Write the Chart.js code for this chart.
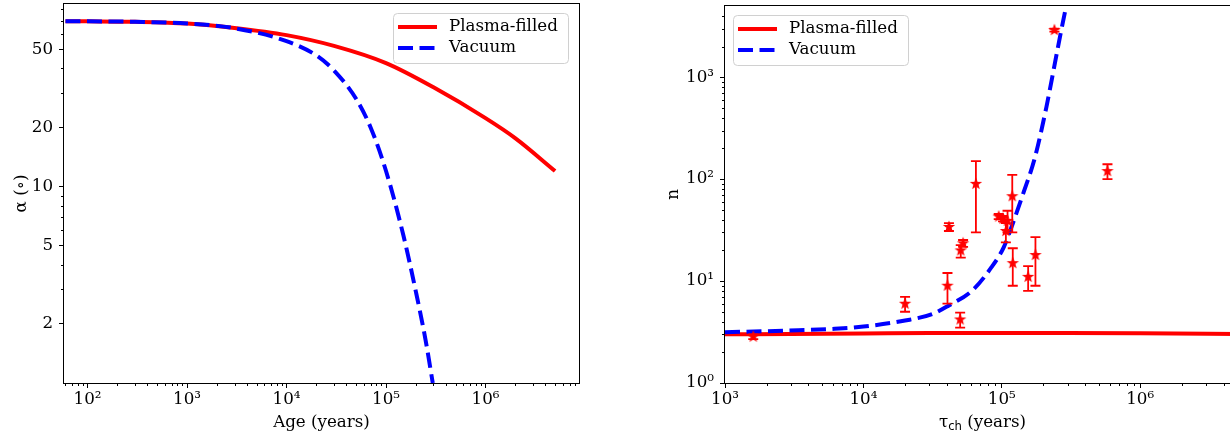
<!DOCTYPE html>
<html>
<head>
<meta charset="utf-8">
<script src="https://cdn.jsdelivr.net/npm/chart.js@4.4.1/dist/chart.umd.min.js"></script>
<style>
html, body { margin:0; padding:0; background:#fff; overflow:hidden; width:1230px; height:438px; }
#leftBox { position:absolute; left:0; top:0; }
#rightBox { position:absolute; left:620px; top:0; }
</style>
</head>
<body>
<div id="leftBox"><canvas id="alphaChart" width="610" height="438"></canvas></div>
<div id="rightBox"><canvas id="nChart" width="640" height="438"></canvas></div>
<script>
// ---- left panel: inclination angle vs age ----
const agePlasma = [60, 100, 300, 1000, 3000, 10000, 30000, 100000, 300000, 1000000, 2000000, 5000000];
const alphaPlasma = [69.5, 69.4, 69.0, 67.6, 64.2, 59.0, 52.0, 42.5, 32.0, 22.3, 17.6, 12.0];
const ageVacuum = [60, 100, 300, 1000, 3000, 10000, 20000, 30000, 50000, 70000, 100000, 150000, 200000, 250000, 295000];
const alphaVacuum = [69.5, 69.4, 69.0, 67.6, 64.0, 55.0, 46.5, 39.0, 28.0, 20.0, 12.0, 5.6, 2.9, 1.65, 1.0];
const ageTicks = [1e2, 1e3, 1e4, 1e5, 1e6];
const alphaTicks = [2, 5, 10, 20, 50];

// ---- right panel: braking index vs characteristic age ----
const tauPlasma = [1000, 3000, 10000, 30000, 100000, 300000, 1000000, 5000000];
const nPlasma = [3.0, 3.03, 3.06, 3.09, 3.1, 3.1, 3.08, 3.03];
const tauVacuum = [1000, 2840, 6200, 10000, 20000, 31700, 41200, 61000, 84000, 103000, 117000, 142000, 173000, 210000, 240000, 264000, 286000, 305000];
const nVacuum = [3.15, 3.27, 3.4, 3.58, 4.1, 4.76, 5.74, 8.05, 13.6, 21.3, 33.4, 70.8, 161, 510, 1300, 2550, 4370, 6500];
const tauObs = [1600, 20000, 40500, 41500, 50000, 50500, 52500, 65000, 95000, 102000, 107000, 110000, 119000, 120000, 155000, 175000, 240000, 580000];
const nObs = [2.85, 6, 9, 34, 4.2, 20, 23.5, 90, 43, 41, 31, 39, 68, 15, 11, 18, 2900, 120];
const nErrLow = [0.15, 1, 3, 3, 0.7, 3, 1.8, 60, 2.5, 2.5, 7, 9, 38, 6, 3, 9, 100, 20];
const nErrHigh = [0.15, 1, 3, 3, 0.7, 2.5, 1.8, 60, 2.5, 2.5, 6, 10, 42, 6, 3, 9, 100, 20];
const tauTicks = [1e3, 1e4, 1e5, 1e6];
const nTicks = [1, 10, 100, 1000];

const FONT = "16.7px 'DejaVu Serif'";
Chart.defaults.font.family = "'DejaVu Serif'";
Chart.defaults.font.size = 16.7;
Chart.defaults.color = "#000";

const SUP = {"0":"⁰","1":"¹","2":"²","3":"³","4":"⁴","5":"⁵","6":"⁶","7":"⁷"};
function powLabel(v){
    let e = Math.round(Math.log10(v));
    return "10" + String(e).split("").map(c => SUP[c]).join("");
}

function toXY(xs, ys){
    return xs.map((x, i) => ({x: x, y: ys[i]}));
}

function minorValues(min, max, majors){
    let out = [];
    for(let e = Math.floor(Math.log10(min)); e <= Math.ceil(Math.log10(max)); e++){
        for(let d = 1; d < 10; d++){
            let v = d * Math.pow(10, e);
            if(v > min && v < max && !majors.some(m => Math.abs(m - v) / v < 1e-9)){
                out.push(v);
            }
        }
    }
    return out;
}

// star marker like matplotlib '*'
function makeStar(r){
    let c = document.createElement("canvas");
    let s = Math.ceil(r * 2 + 4);
    c.width = s; c.height = s;
    let g = c.getContext("2d");
    g.fillStyle = "#ff0000";
    g.strokeStyle = "#ff0000";
    g.lineWidth = 1.2;
    g.lineJoin = "miter";
    g.beginPath();
    for(let i = 0; i < 10; i++){
        let rad = (i % 2 === 0) ? r : r * 0.42;
        let a = -Math.PI / 2 + i * Math.PI / 5;
        let px = s / 2 + rad * Math.cos(a);
        let py = s / 2 + rad * Math.sin(a);
        if(i === 0) g.moveTo(px, py); else g.lineTo(px, py);
    }
    g.closePath();
    g.fill();
    g.stroke();
    return c;
}

function logAxis(min, max, majors, labelFn, boxSize, isX){
    return {
        type: "logarithmic",
        min: min,
        max: max,
        afterBuildTicks: s => { s.ticks = majors.map(v => ({value: v})); },
        afterFit: s => {
            if(isX) s.height = boxSize; else s.width = boxSize;
            s.paddingTop = 0; s.paddingBottom = 0;
            s.paddingLeft = 0; s.paddingRight = 0;
        },
        ticks: {
            callback: v => labelFn(v),
            autoSkip: false,
            maxRotation: 0,
            padding: isX ? 2 : 6,
            color: "#000"
        },
        grid: {
            display: true,
            drawOnChartArea: false,
            drawTicks: true,
            tickLength: 5,
            tickColor: "#000",
            tickWidth: 1
        },
        border: { display: false }
    };
}

// frame + minor ticks + axis titles + legend
const decor = {
    id: "decor",
    afterDraw(chart, args, o){
        const ctx = chart.ctx;
        const a = chart.chartArea;
        const xs = chart.scales.x, ys = chart.scales.y;
        ctx.save();
        ctx.strokeStyle = "#000";
        ctx.lineWidth = 1;
        ctx.strokeRect(a.left - 0.5, a.top - 0.5, a.right - a.left + 1, a.bottom - a.top + 1);

        ctx.beginPath();
        minorValues(xs.min, xs.max, o.xMajors).forEach(v => {
            let p = Math.round(xs.getPixelForValue(v)) + 0.5;
            ctx.moveTo(p, a.bottom); ctx.lineTo(p, a.bottom + 3);
        });
        minorValues(ys.min, ys.max, o.yMajors).forEach(v => {
            let p = Math.round(ys.getPixelForValue(v)) + 0.5;
            ctx.moveTo(a.left, p); ctx.lineTo(a.left - 3, p);
        });
        ctx.stroke();

        // axis titles
        ctx.fillStyle = "#000";
        ctx.textBaseline = "middle";
        ctx.font = FONT;
        let cx = (a.left + a.right) / 2;
        if(o.xSub){
            ctx.textAlign = "left";
            let w1 = ctx.measureText(o.xTitle).width;
            ctx.font = "11.7px 'DejaVu Sans'";
            let w2 = ctx.measureText(o.xSub).width;
            ctx.font = FONT;
            let w3 = ctx.measureText(o.xRest).width;
            let x0 = cx - (w1 + w2 + w3) / 2;
            ctx.fillText(o.xTitle, x0, o.xTitleY);
            ctx.font = "11.7px 'DejaVu Sans'";
            ctx.fillText(o.xSub, x0 + w1, o.xTitleY + 4);
            ctx.font = FONT;
            ctx.fillText(o.xRest, x0 + w1 + w2, o.xTitleY);
        }
        else{
            ctx.textAlign = "center";
            ctx.fillText(o.xTitle, cx, o.xTitleY);
        }
        ctx.save();
        ctx.translate(o.yTitleX, (a.top + a.bottom) / 2);
        ctx.rotate(-Math.PI / 2);
        ctx.textAlign = "center";
        ctx.fillText(o.yTitle, 0, 0);
        ctx.restore();

        // legend
        let bw = 175, bh = 50;
        let bx = o.legendRight ? a.right - 11 - bw : a.left + 8;
        let by = a.top + 9;
        ctx.beginPath();
        ctx.roundRect(bx + 0.5, by + 0.5, bw, bh, 4);
        ctx.fillStyle = "rgba(255,255,255,0.8)";
        ctx.fill();
        ctx.strokeStyle = "#d0d0d0";
        ctx.stroke();
        let rows = chart.data.datasets.filter(d => d.showLine);
        rows.forEach((d, i) => {
            let yy = by + 14 + i * 21;
            ctx.beginPath();
            ctx.strokeStyle = d.borderColor;
            ctx.lineWidth = 4;
            ctx.setLineDash(d.borderDash || []);
            ctx.moveTo(bx + 5, yy);
            ctx.lineTo(bx + 44, yy);
            ctx.stroke();
            ctx.setLineDash([]);
            ctx.fillStyle = "#000";
            ctx.textAlign = "left";
            ctx.font = FONT;
            ctx.fillText(d.label, bx + 56, yy);
        });
        ctx.restore();
    }
};

// error bars drawn just before the star markers
const errorBars = {
    id: "errorBars",
    beforeDatasetDraw(chart, args){
        let ds = chart.data.datasets[args.index];
        if(!ds.errLow) return;
        const ctx = chart.ctx;
        const xs = chart.scales.x, ys = chart.scales.y;
        ctx.save();
        ctx.strokeStyle = "#ff0000";
        ctx.lineWidth = 1.8;
        ctx.beginPath();
        ds.data.forEach((p, i) => {
            let px = xs.getPixelForValue(p.x);
            let lo = ys.getPixelForValue(p.y - ds.errLow[i]);
            let hi = ys.getPixelForValue(p.y + ds.errHigh[i]);
            ctx.moveTo(px, lo); ctx.lineTo(px, hi);
            ctx.moveTo(px - 5, lo); ctx.lineTo(px + 5, lo);
            ctx.moveTo(px - 5, hi); ctx.lineTo(px + 5, hi);
        });
        ctx.stroke();
        ctx.restore();
    }
};

new Chart(document.getElementById("alphaChart"), {
    type: "scatter",
    data: {
        datasets: [
            {
                label: "Plasma-filled",
                data: toXY(agePlasma, alphaPlasma),
                showLine: true,
                borderColor: "#ff0000",
                borderWidth: 4,
                pointRadius: 0,
                cubicInterpolationMode: "monotone",
                clip: 0,
                order: 2
            },
            {
                label: "Vacuum",
                data: toXY(ageVacuum, alphaVacuum),
                showLine: true,
                borderColor: "#0000ff",
                borderWidth: 4,
                borderDash: [15, 6.5],
                pointRadius: 0,
                cubicInterpolationMode: "monotone",
                clip: 0,
                order: 1
            }
        ]
    },
    options: {
        responsive: false,
        animation: false,
        layout: { padding: { top: 4, right: 31, left: 0, bottom: 0 } },
        scales: {
            x: logAxis(58, 8.7e6, ageTicks, powLabel, 55, true),
            y: logAxis(1, 85, alphaTicks, v => String(v), 64, false)
        },
        plugins: {
            legend: { display: false },
            tooltip: { enabled: false },
            decor: {
                xMajors: ageTicks, yMajors: alphaTicks,
                xTitle: "Age (years)", xTitleY: 423,
                yTitle: "α (∘)", yTitleX: 22,
                legendRight: true
            }
        }
    },
    plugins: [decor]
});

new Chart(document.getElementById("nChart"), {
    type: "scatter",
    data: {
        datasets: [
            {
                label: "obs",
                data: toXY(tauObs, nObs),
                errLow: nErrLow,
                errHigh: nErrHigh,
                pointStyle: makeStar(4.8),
                pointRadius: 5,
                order: 0
            },
            {
                label: "Plasma-filled",
                data: toXY(tauPlasma, nPlasma),
                showLine: true,
                borderColor: "#ff0000",
                borderWidth: 4,
                pointRadius: 0,
                cubicInterpolationMode: "monotone",
                clip: 0,
                order: 2
            },
            {
                label: "Vacuum",
                data: toXY(tauVacuum, nVacuum),
                showLine: true,
                borderColor: "#0000ff",
                borderWidth: 4,
                borderDash: [15, 6.5],
                pointRadius: 0,
                cubicInterpolationMode: "monotone",
                clip: 0,
                order: 1
            }
        ]
    },
    options: {
        responsive: false,
        animation: false,
        layout: { padding: { top: 4, right: 20, left: 0, bottom: 0 } },
        scales: {
            x: logAxis(1000, 5.26e6, tauTicks, powLabel, 55, true),
            y: logAxis(1, 5000, nTicks, powLabel, 105, false)
        },
        plugins: {
            legend: { display: false },
            tooltip: { enabled: false },
            decor: {
                xMajors: tauTicks, yMajors: nTicks,
                xTitle: "τ", xSub: "ch", xRest: " (years)", xTitleY: 423,
                yTitle: "n", yTitleX: 54,
                legendRight: false
            }
        }
    },
    plugins: [decor, errorBars]
});
</script>
</body>
</html>
